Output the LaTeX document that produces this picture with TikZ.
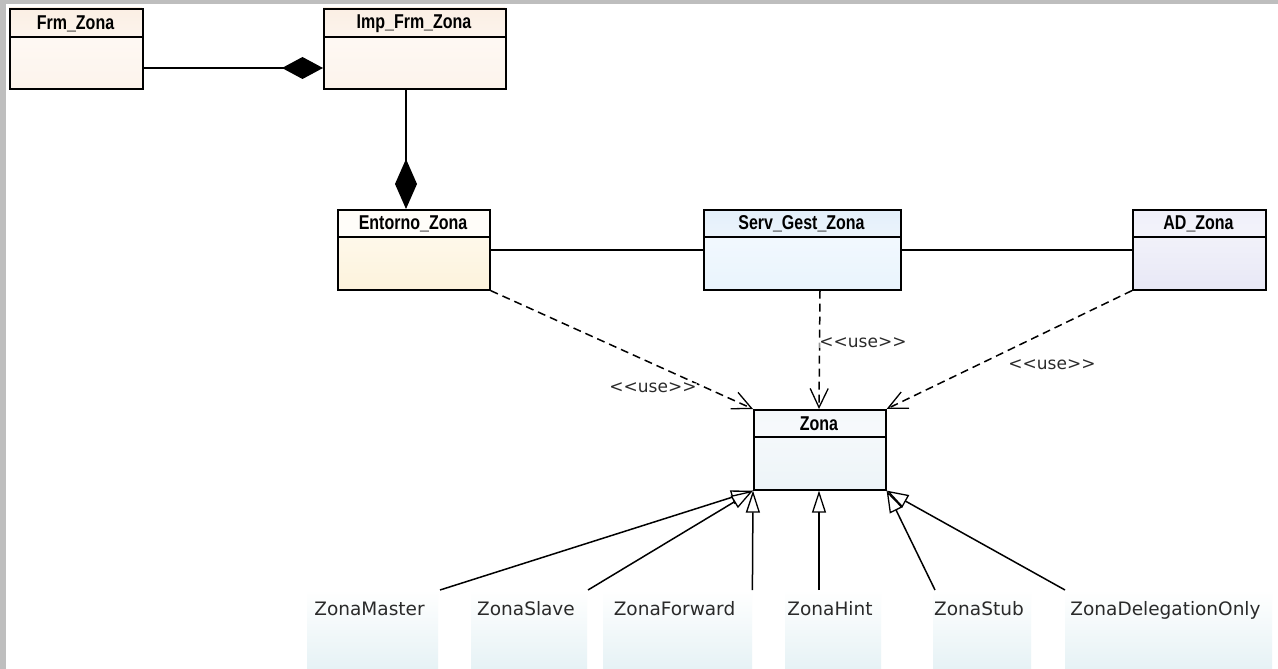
\documentclass[tikz,border=0pt]{standalone}
\usepackage{fontspec}
\usetikzlibrary{arrows.meta}
\newfontfamily\hdfont[FakeStretch=0.8]{Liberation Sans}
\newfontfamily\lblfont{DejaVu Sans}

\definecolor{frame}{HTML}{BEBEBE}
\definecolor{peachA}{HTML}{FBEFE4}
\definecolor{peachB}{HTML}{FDF4EC}
\definecolor{creamA}{HTML}{FFFDF8}
\definecolor{creamB}{HTML}{FDF3DC}
\definecolor{skyA}{HTML}{E3EFFA}
\definecolor{skyB}{HTML}{E9F4FD}
\definecolor{lilacA}{HTML}{EFEFF9}
\definecolor{lilacB}{HTML}{E8E8F6}
\definecolor{iceA}{HTML}{F4F8FB}
\definecolor{iceB}{HTML}{EDF4F8}
\definecolor{subA}{HTML}{FFFFFF}
\definecolor{subB}{HTML}{E6F2F5}
\definecolor{ink}{HTML}{2A2A2A}

\tikzset{
  edge/.style={line width=1.5pt, draw=black},
  assoc/.style={edge},
  compose/.style={edge, -{Diamond[length=#1, width=22pt, fill=black]}},
  use/.style={edge, dash pattern=on 8pt off 5pt, -{Straight Barb[length=19pt, width=18pt, line width=1.3pt]}},
  inherit/.style={edge, -{Triangle[open, length=22pt, width=14pt, line width=1.3pt, fill=white]}},
  classframe/.style={draw, line width=1.6pt, inner sep=0pt, anchor=north west},
  headtext/.style={font=\hdfont\bfseries\fontsize{20}{22}\selectfont, text=black, inner sep=0pt},
  subtext/.style={font=\lblfont\fontsize{18.5}{20}\selectfont, text=ink, inner sep=0pt, anchor=base},
  usetext/.style={font=\lblfont\fontsize{17}{19}\selectfont, text=ink, inner sep=0pt, fill=white, fill opacity=0.6, text opacity=1},
}

% \umlclass{name}{left}{top}{right}{bottom}{divider}{title}{head colour}{body colour}
\newcommand\umlclass[9]{%
  \shade[top color=#8, bottom color=#8!70!white] (#2,#3) rectangle (#4,#6);
  \shade[top color=#9!60!white, bottom color=#9] (#2,#6) rectangle (#4,#5);
  \draw[line width=1.5pt] (#2,#6) -- (#4,#6);
  \node[classframe, minimum width={(#4-#2)*1pt}, minimum height={(#5-#3)*1pt}] (#1) at (#2,#3) {};
  \node[headtext] (#1-title) at ({(#2+#4)/2},{(#3+#6)/2+1}) {#7};
}

% \subclass{name}{left}{right}{text}
\newcommand\subclass[4]{%
  \shade[top color=subA, bottom color=subB] (#2,590) rectangle (#3,669);
  \node[inner sep=0pt, minimum width={(#3-#2)*1pt}, minimum height=79pt, anchor=north west] (#1) at (#2,590) {};
  \node[subtext] (#1-text) at ({(#2+#3)/2-3},615) {#4};
}

\begin{document}
\begin{tikzpicture}[x=1pt, y=-1pt]
  \useasboundingbox (0,0) rectangle (1278,669);
  \fill[frame] (0,0) rectangle (1278,669);
  \fill[white] (6,4) rectangle (1278,669);

  % classes
  \umlclass{frm}{9}{8}{142}{88}{37}{Frm\_Zona}{peachA}{peachB}
  \umlclass{imp}{323}{8}{505}{88}{37}{Imp\_Frm\_Zona}{peachA}{peachB}
  \umlclass{ent}{337}{209}{489}{289}{237}{Entorno\_Zona}{creamA}{creamB}
  \umlclass{serv}{703}{209}{900}{289}{237}{Serv\_Gest\_Zona}{skyA}{skyB}
  \umlclass{ad}{1132}{209}{1265}{289}{237}{AD\_Zona}{lilacA}{lilacB}
  \umlclass{zona}{753}{409}{885}{489}{437}{Zona}{iceA}{iceB}

  % subclasses
  \subclass{master}{307}{438}{ZonaMaster}
  \subclass{slave}{471}{587}{ZonaSlave}
  \subclass{fwd}{603}{752}{ZonaForward}
  \subclass{hint}{785}{881}{ZonaHint}
  \subclass{stub}{933}{1031}{ZonaStub}
  \subclass{deleg}{1065}{1272}{ZonaDelegationOnly}

  % composition
  \draw[compose=41pt] (frm.east |- 0,68) -- (imp.west |- 0,68);
  \draw[compose=50pt] (imp.south -| 406,0) -- (ent.north -| 406,0);

  % associations
  \draw[assoc] (ent.east |- 0,250) -- (serv.west |- 0,250);
  \draw[assoc] (serv.east |- 0,250) -- (ad.west |- 0,250);

  % dependencies
  \draw[use] (ent.south east) -- (zona.north west);
  \draw[use] (serv.south -| 820,0) -- (zona.north -| 819,0);
  \draw[use] (ad.south west) -- (zona.north east);
  \node[usetext] (u1) at (653,388) {<<use>>};
  \node[usetext] (u2) at (863,343) {<<use>>};
  \node[usetext] (u3) at (1052,365) {<<use>>};

  % generalisations
  \draw[inherit] (master.north -| 440,0) -- (zona.south west);
  \draw[inherit] (slave.north -| 588,0) -- (zona.south west);
  \draw[inherit] (fwd.north east) -- (zona.south west);
  \draw[inherit] (hint.north -| 819,0) -- (zona.south -| 819,0);
  \draw[inherit] (stub.north -| 935,0) -- (zona.south east);
  \draw[inherit] (deleg.north west) -- (zona.south east);
\end{tikzpicture}
\end{document}
